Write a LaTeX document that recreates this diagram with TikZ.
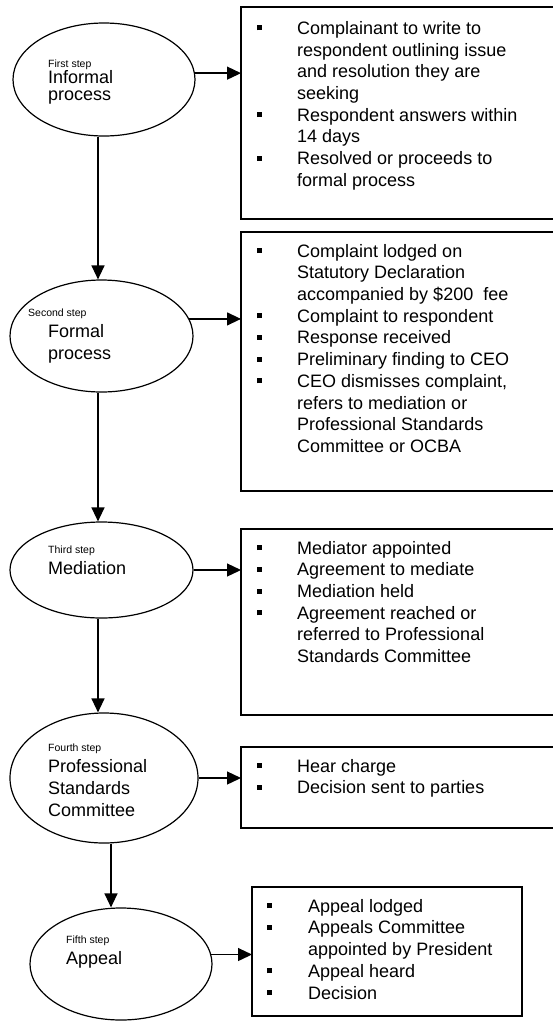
\documentclass[tikz,border=0pt]{standalone}
\usepackage{fontspec}
\setmainfont{Liberation Sans}
\usetikzlibrary{arrows.meta,shapes.geometric,positioning}

\newcommand{\bigfont}{\fontsize{18}{21.7}\selectfont}
\newcommand{\tagfont}{\fontsize{10.5}{12}\selectfont}
\newcommand{\bul}{\rule[4pt]{5pt}{5pt}}

\begin{document}
\begin{tikzpicture}[x=1pt, y=-1pt,
    stepoval/.style = {draw,
                       ellipse,
                       line width=1.2pt,
                       inner sep=0pt},
    infobox/.style  = {draw,
                       rectangle,
                       line width=1.4pt,
                       anchor=north west,
                       inner sep=0pt,
                       outer sep=0pt},
    steptext/.style = {anchor=north west,
                       inner sep=0pt,
                       align=left,
                       font=\bigfont},
    infotext/.style = {anchor=north west,
                       inner sep=0pt,
                       font=\bigfont},
    arr/.style      = {line width=1.3pt,
                       -{Triangle[length=14pt,width=13pt]}}
]
\useasboundingbox (0,0) rectangle (553,1021);

\node (s1) [stepoval, minimum width=182pt, minimum height=113pt] at (104,79.5) {};
\node (s2) [stepoval, minimum width=183pt, minimum height=112pt] at (101.5,336) {};
\node (s3) [stepoval, minimum width=183pt, minimum height=96pt]  at (101.5,570) {};
\node (s4) [stepoval, minimum width=188pt, minimum height=130pt] at (104,778) {};
\node (s5) [stepoval, minimum width=182pt, minimum height=112pt] at (121,964) {};

\node (t1) [steptext] at (48,55) {{\tagfont\rule{0pt}{12pt}First step}\\[-5pt]
Informal\\[-5pt]
process};
\node (t2) [steptext] at (28,304) {{\tagfont\rule{0pt}{12pt}Second step}\\
\hspace*{20pt}Formal\\
\hspace*{20pt}process};
\node (t3) [steptext] at (48,541) {{\tagfont\rule{0pt}{12pt}Third step}\\
Mediation};
\node (t4) [steptext] at (48,739) {{\tagfont\rule{0pt}{12pt}Fourth step}\\
Professional\\
Standards\\
Committee};
\node (t5) [steptext] at (66,931) {{\tagfont\rule{0pt}{12pt}Fifth step}\\
Appeal};

\node (b1) [infobox, minimum width=315pt, minimum height=212pt] at (241,7) {};
\node (b2) [infobox, minimum width=315pt, minimum height=259pt] at (241,232) {};
\node (b3) [infobox, minimum width=315pt, minimum height=186pt] at (241,529) {};
\node (b4) [infobox, minimum width=315pt, minimum height=81pt]  at (241,747) {};
\node (b5) [infobox, minimum width=270pt, minimum height=129pt] at (252,887) {};

\node (i1) [infotext] at ([xshift=16pt, yshift=-12pt]b1.north west) {%
\begin{tabular}{@{}p{40pt}@{}l@{}}
\bul & Complainant to write to\\
     & respondent outlining issue\\
     & and resolution they are\\
     & seeking\\
\bul & Respondent answers within\\
     & 14 days\\
\bul & Resolved or proceeds to\\
     & formal process
\end{tabular}};
\node (i2) [infotext] at ([xshift=16pt, yshift=-9.8pt]b2.north west) {%
\begin{tabular}{@{}p{40pt}@{}l@{}}
\bul & Complaint lodged on\\
     & Statutory Declaration\\
     & accompanied by \$200~ fee\\
\bul & Complaint to respondent\\
\bul & Response received\\
\bul & Preliminary finding to CEO\\
\bul & CEO dismisses complaint,\\
     & refers to mediation or\\
     & Professional Standards\\
     & Committee or OCBA
\end{tabular}};
\node (i3) [infotext] at ([xshift=16pt, yshift=-9.8pt]b3.north west) {%
\begin{tabular}{@{}p{40pt}@{}l@{}}
\bul & Mediator appointed\\
\bul & Agreement to mediate\\
\bul & Mediation held\\
\bul & Agreement reached or\\
     & referred to Professional\\
     & Standards Committee
\end{tabular}};
\node (i4) [infotext] at ([xshift=16pt, yshift=-9.8pt]b4.north west) {%
\begin{tabular}{@{}p{40pt}@{}l@{}}
\bul & Hear charge\\
\bul & Decision sent to parties
\end{tabular}};
\node (i5) [infotext] at ([xshift=15pt, yshift=-9.8pt]b5.north west) {%
\begin{tabular}{@{}p{41pt}@{}l@{}}
\bul & Appeal lodged\\
\bul & Appeals Committee\\
     & appointed by President\\
\bul & Appeal heard\\
\bul & Decision
\end{tabular}};

\draw[arr] (s1.4) -- (s1.4 -| b1.west);
\draw[arr] (s2.11) -- (s2.11 -| b2.west);
\draw[arr] (s3.east) -- (s3.east -| b3.west);
\draw[arr] (s4.east) -- (s4.east -| b4.west);
\draw[arr] (s5.6) -- (s5.6 -| b5.west);

\draw[arr] ([xshift=-6pt]s1.south) -- ([xshift=-6pt]s1.south |- s2.north);
\draw[arr] ([xshift=-3.5pt]s2.south) -- ([xshift=-3.5pt]s2.south |- s3.north);
\draw[arr] ([xshift=-3.5pt]s3.south) -- ([xshift=-3.5pt]s3.south |- s4.north);
\draw[arr] ([xshift=7pt]s4.south) -- ([xshift=7pt]s4.south |- s5.north);
\end{tikzpicture}
\end{document}
